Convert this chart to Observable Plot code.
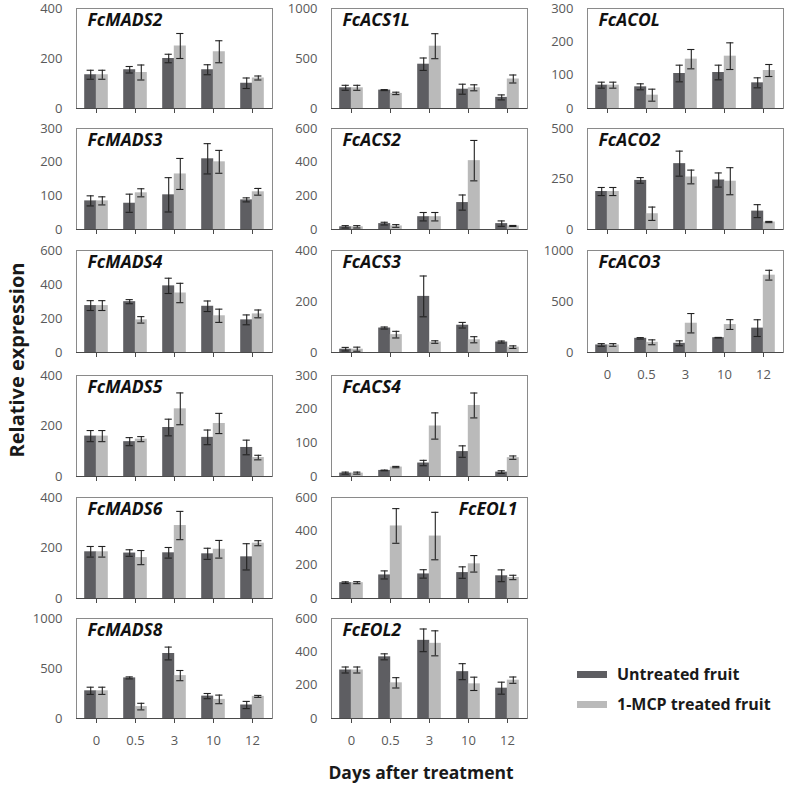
<!DOCTYPE html>
<html>
<head>
<meta charset="utf-8">
<script src="https://cdn.jsdelivr.net/npm/d3@7"></script>
<script src="https://cdn.jsdelivr.net/npm/@observablehq/plot@0.6"></script>
<style>
  html, body { margin: 0; padding: 0; background: #fff; }
  #root { position: relative; width: 789px; height: 786px; overflow: hidden; font-family: "Open Sans", sans-serif; }
  .panel { position: absolute; }
  .lbl { position: absolute; font-weight: bold; color: #1a1a1a; white-space: nowrap; }
  .sw { position: absolute; width: 30px; height: 7px; }
</style>
</head>
<body>
<div id="root"></div>
<script>
// ---- categories ----
const days = ["0", "0.5", "3", "10", "12"];
const series = ["Untreated fruit", "1-MCP treated fruit"];

// ---- values (mean, error); U = untreated, T = 1-MCP treated ----
const FcMADS2_U = [135, 155, 200, 155, 101], FcMADS2_Ue = [18, 13, 17, 20, 21];
const FcMADS2_T = [135, 144, 250, 227, 122], FcMADS2_Te = [18, 30, 50, 44, 8];

const FcMADS3_U = [85, 78, 103, 210, 88], FcMADS3_Ue = [15, 27, 51, 45, 6];
const FcMADS3_T = [85, 109, 165, 201, 112], FcMADS3_Te = [12, 12, 46, 34, 10];

const FcMADS4_U = [276, 299, 392, 272, 192], FcMADS4_Ue = [29, 12, 45, 31, 29];
const FcMADS4_T = [276, 192, 350, 216, 227], FcMADS4_Te = [29, 19, 57, 39, 23];

const FcMADS5_U = [160, 138, 194, 155, 115], FcMADS5_Ue = [22, 16, 33, 29, 29];
const FcMADS5_T = [160, 148, 268, 210, 75], FcMADS5_Te = [22, 10, 63, 40, 9];

const FcMADS6_U = [185, 180, 181, 177, 165], FcMADS6_Ue = [21, 13, 21, 22, 52];
const FcMADS6_T = [185, 162, 289, 195, 219], FcMADS6_Te = [21, 28, 56, 35, 10];

const FcMADS8_U = [277, 406, 650, 224, 135], FcMADS8_Ue = [36, 10, 64, 26, 36];
const FcMADS8_T = [277, 119, 429, 191, 221], FcMADS8_Te = [36, 33, 51, 43, 10];

const FcACS1L_U = [207, 184, 443, 193, 111], FcACS1L_Ue = [25, 5, 62, 50, 25];
const FcACS1L_T = [207, 151, 623, 207, 295], FcACS1L_Te = [25, 12, 125, 30, 40];

const FcACS2_U = [16, 35, 76, 160, 35], FcACS2_Ue = [7, 8, 25, 45, 16];
const FcACS2_T = [16, 21, 76, 409, 21], FcACS2_Te = [7, 8, 25, 120, 3];

const FcACS3_U = [13, 96, 220, 107, 41], FcACS3_Ue = [7, 4, 80, 11, 4];
const FcACS3_T = [13, 70, 41, 50, 21], FcACS3_Te = [8, 13, 5, 12, 5];

const FcACS4_U = [10, 18, 40, 74, 13], FcACS4_Ue = [3, 1, 8, 17, 4];
const FcACS4_T = [10, 28, 150, 211, 56], FcACS4_Te = [3, 2, 39, 37, 5];

const FcEOL1_U = [94, 140, 146, 154, 135], FcEOL1_Ue = [5, 24, 25, 34, 35];
const FcEOL1_T = [94, 431, 371, 206, 125], FcEOL1_Te = [6, 103, 141, 49, 13];

const FcEOL2_U = [291, 370, 469, 281, 182], FcEOL2_Ue = [18, 18, 68, 48, 36];
const FcEOL2_T = [291, 214, 451, 208, 230], FcEOL2_Te = [18, 31, 75, 40, 19];

const FcACOL_U = [70, 65, 105, 108, 77], FcACOL_Ue = [9, 9, 25, 22, 15];
const FcACOL_T = [70, 40, 148, 157, 114], FcACOL_Te = [9, 18, 29, 40, 18];

const FcACO2_U = [188, 243, 326, 245, 91], FcACO2_Ue = [20, 14, 62, 35, 32];
const FcACO2_T = [188, 78, 260, 239, 37], FcACO2_Te = [20, 33, 34, 67, 3];

const FcACO3_U = [74, 139, 90, 145, 239], FcACO3_Ue = [13, 7, 24, 3, 82];
const FcACO3_T = [74, 100, 287, 274, 758], FcACO3_Te = [13, 24, 95, 48, 48];

// ---- y-axis tick labels per panel ----
const ticks400 = [0, 200, 400], ticks300 = [0, 100, 200, 300], ticks600 = [0, 200, 400, 600];
const ticks1000 = [0, 500, 1000], ticks500 = [0, 250, 500];

const panels = [
  {gene: "FcMADS2", col: 0, row: 0, U: FcMADS2_U, Ue: FcMADS2_Ue, T: FcMADS2_T, Te: FcMADS2_Te, ticks: ticks400},
  {gene: "FcMADS3", col: 0, row: 1, U: FcMADS3_U, Ue: FcMADS3_Ue, T: FcMADS3_T, Te: FcMADS3_Te, ticks: ticks300},
  {gene: "FcMADS4", col: 0, row: 2, U: FcMADS4_U, Ue: FcMADS4_Ue, T: FcMADS4_T, Te: FcMADS4_Te, ticks: ticks600},
  {gene: "FcMADS5", col: 0, row: 3, U: FcMADS5_U, Ue: FcMADS5_Ue, T: FcMADS5_T, Te: FcMADS5_Te, ticks: ticks400},
  {gene: "FcMADS6", col: 0, row: 4, U: FcMADS6_U, Ue: FcMADS6_Ue, T: FcMADS6_T, Te: FcMADS6_Te, ticks: ticks400},
  {gene: "FcMADS8", col: 0, row: 5, U: FcMADS8_U, Ue: FcMADS8_Ue, T: FcMADS8_T, Te: FcMADS8_Te, ticks: ticks1000, xlabels: true},
  {gene: "FcACS1L", col: 1, row: 0, U: FcACS1L_U, Ue: FcACS1L_Ue, T: FcACS1L_T, Te: FcACS1L_Te, ticks: ticks1000},
  {gene: "FcACS2", col: 1, row: 1, U: FcACS2_U, Ue: FcACS2_Ue, T: FcACS2_T, Te: FcACS2_Te, ticks: ticks600},
  {gene: "FcACS3", col: 1, row: 2, U: FcACS3_U, Ue: FcACS3_Ue, T: FcACS3_T, Te: FcACS3_Te, ticks: ticks400},
  {gene: "FcACS4", col: 1, row: 3, U: FcACS4_U, Ue: FcACS4_Ue, T: FcACS4_T, Te: FcACS4_Te, ticks: ticks300},
  {gene: "FcEOL1", col: 1, row: 4, U: FcEOL1_U, Ue: FcEOL1_Ue, T: FcEOL1_T, Te: FcEOL1_Te, ticks: ticks600, right: true},
  {gene: "FcEOL2", col: 1, row: 5, U: FcEOL2_U, Ue: FcEOL2_Ue, T: FcEOL2_T, Te: FcEOL2_Te, ticks: ticks600, xlabels: true},
  {gene: "FcACOL", col: 2, row: 0, U: FcACOL_U, Ue: FcACOL_Ue, T: FcACOL_T, Te: FcACOL_Te, ticks: ticks300},
  {gene: "FcACO2", col: 2, row: 1, U: FcACO2_U, Ue: FcACO2_Ue, T: FcACO2_T, Te: FcACO2_Te, ticks: ticks500},
  {gene: "FcACO3", col: 2, row: 2, U: FcACO3_U, Ue: FcACO3_Ue, T: FcACO3_T, Te: FcACO3_Te, ticks: ticks1000, xlabels: true}
];

// ---- layout ----
const DARK = "#5e5e62", LIGHT = "#bababa";
const colLeft = [76, 331, 587];           // plot-area left edges
const rowTop = [8, 128, 250, 375, 497, 618];
const rowH = [100, 101, 102, 101, 101, 100];
const plotW = 196;
const mL = 46, mR = 5, mT = 9;

const root = document.getElementById("root");

for (const p of panels) {
  const rows = [];
  days.forEach((d, i) => {
    rows.push({day: d, s: 0, v: p.U[i], e: p.Ue[i]});
    rows.push({day: d, s: 1, v: p.T[i], e: p.Te[i]});
  });
  const h = rowH[p.row];
  const mB = p.xlabels ? 32 : 9;
  const off = s => (s === 0 ? -1 : 1) * 5.8;
  const grp = s => rows.filter(r => r.s === s);
  const marks = [];
  for (const s of [0, 1]) {
    marks.push(Plot.barY(grp(s), {x: "day", y: "v", fill: s === 0 ? DARK : LIGHT, dx: off(s)}));
  }
  marks.push(Plot.frame({stroke: "#8a8a8a", strokeWidth: 1}));
  marks.push(Plot.ruleY([0], {stroke: "#4a4a4a", strokeWidth: 1.2}));
  for (const s of [0, 1]) {
    const g = grp(s);
    marks.push(Plot.ruleX(g, {x: "day", y1: r => r.v - r.e, y2: r => r.v + r.e, dx: off(s), stroke: "#222", strokeWidth: 1.1}));
    marks.push(Plot.tickY(g, {x: "day", y: r => r.v + r.e, dx: off(s), insetLeft: 2.4, insetRight: 2.4, stroke: "#222", strokeWidth: 1.1}));
    marks.push(Plot.tickY(g, {x: "day", y: r => r.v - r.e, dx: off(s), insetLeft: 2.4, insetRight: 2.4, stroke: "#222", strokeWidth: 1.1}));
  }
  marks.push(Plot.axisY({ticks: p.ticks, tickSize: 0, tickPadding: 14, tickFormat: d => String(d), fontSize: 13, fill: "#595959", label: null}));
  marks.push(Plot.axisX({tickSize: 5, tickPadding: 12, stroke: "#4a4a4a", fill: "#595959", fontSize: 13, label: null,
    tickFormat: p.xlabels ? (d => d) : (() => "")}));
  marks.push(Plot.text([p.gene], {
    frameAnchor: p.right ? "top-right" : "top-left",
    textAnchor: p.right ? "end" : "start",
    lineAnchor: "top",
    dx: p.right ? -10 : 11, dy: 5,
    fontSize: 17.5, fontWeight: "bold", fontStyle: "italic", fill: "#111",
    text: d => d
  }));

  const chart = Plot.plot({
    width: mL + plotW + mR,
    height: mT + h + mB,
    marginLeft: mL, marginRight: mR, marginTop: mT, marginBottom: mB,
    style: {fontFamily: "'Open Sans', sans-serif", background: "transparent", overflow: "visible"},
    x: {type: "band", domain: days, paddingInner: 0.705, paddingOuter: 0.3525, axis: null, label: null},
    y: {domain: [0, p.ticks[p.ticks.length - 1]], axis: null, label: null},
    marks
  });
  chart.classList.add("panel");
  chart.style.left = (colLeft[p.col] - mL) + "px";
  chart.style.top = (rowTop[p.row] - mT) + "px";
  root.appendChild(chart);
}

// ---- axis titles ----
const yt = document.createElement("div");
yt.className = "lbl";
yt.textContent = "Relative expression";
yt.style.fontSize = "20px";
yt.style.left = "16px"; yt.style.top = "360px";
yt.style.transform = "translate(-50%, -50%) rotate(-90deg)";
root.appendChild(yt);

const xt = document.createElement("div");
xt.className = "lbl";
xt.textContent = "Days after treatment";
xt.style.fontSize = "17.5px";
xt.style.left = "421px"; xt.style.top = "772px";
xt.style.transform = "translate(-50%, -50%)";
root.appendChild(xt);

// ---- legend ----
const legendColors = [DARK, LIGHT];
series.forEach((name, i) => {
  const sw = document.createElement("div");
  sw.className = "sw";
  sw.style.background = legendColors[i];
  sw.style.left = "577px"; sw.style.top = (671 + i * 30) + "px";
  root.appendChild(sw);
  const t = document.createElement("div");
  t.className = "lbl";
  t.textContent = name;
  t.style.fontSize = "16px";
  t.style.left = "617px"; t.style.top = (674 + i * 30) + "px";
  t.style.transform = "translateY(-50%)";
  root.appendChild(t);
});
</script>
</body>
</html>
